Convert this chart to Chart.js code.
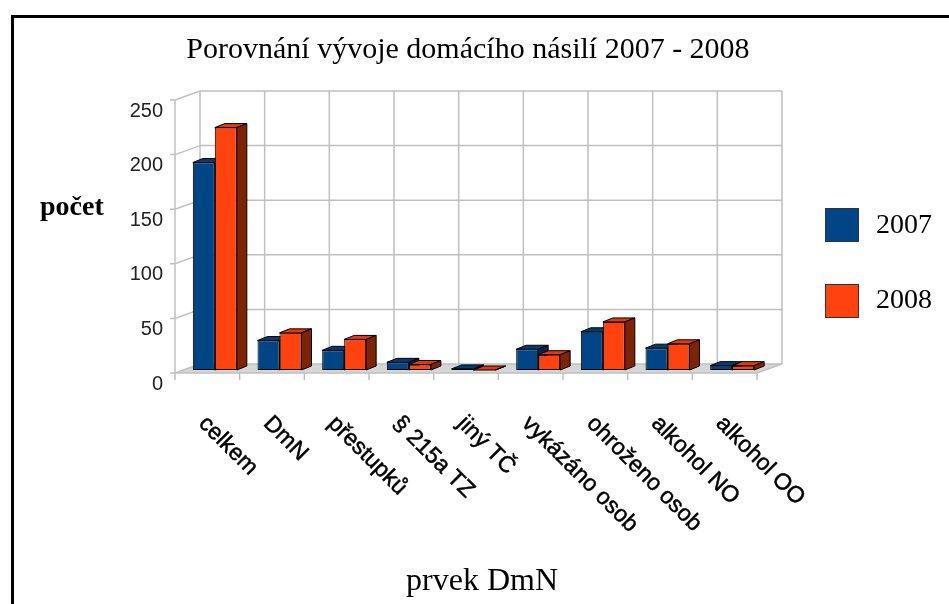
<!DOCTYPE html>
<html>
<head>
<meta charset="utf-8">
<script src="https://cdn.jsdelivr.net/npm/chart.js@4/dist/chart.umd.min.js"></script>
<style>
  html, body { margin: 0; padding: 0; background: #fff; overflow: hidden; }
  #wrap { position: relative; width: 949px; height: 604px; overflow: hidden; }
  #frame { position: absolute; left: 11px; top: 15px; width: 1000px; height: 700px; border: 3px solid #000; box-sizing: border-box; }
  canvas { position: absolute; left: 0; top: 0; }
  .txt { position: absolute; white-space: nowrap; line-height: 1; color: #000; font-family: 'Liberation Serif', 'DejaVu Serif', serif; }
  .box { position: absolute; width: 32px; height: 32px; border: 1px solid #333; }
</style>
</head>
<body>
<div id="wrap">
  <div id="frame"></div>
  <canvas id="chart" width="949" height="604"></canvas>
  <div class="txt" style="left:168px; width:600px; text-align:center; top:33px; font-size:30px;">Porovnání vývoje domácího násilí 2007 - 2008</div>
  <div class="txt" style="left:40px; top:192px; font-size:28px; font-weight:bold;">počet</div>
  <div class="txt" style="left:332px; width:300px; text-align:center; top:563px; font-size:32px;">prvek DmN</div>
  <div class="box" style="left:825px; top:208px; background:#004586;"></div>
  <div class="txt" style="left:876px; top:210px; font-size:28px;">2007</div>
  <div class="box" style="left:825px; top:284px; background:#ff420e;"></div>
  <div class="txt" style="left:876px; top:285px; font-size:28px;">2008</div>
</div>
<script>
// ---- data ----
const categories = ['celkem', 'DmN', 'přestupků', '§ 215a TZ', 'jiný TČ', 'vykázáno osob', 'ohroženo osob', 'alkohol NO', 'alkohol OO'];
const values2007 = [190, 27, 18, 7, 1, 19, 35, 20, 4];
const values2008 = [222, 34, 28, 5, 0, 14, 44, 24, 4];
const yTicks = [0, 50, 100, 150, 200, 250];

// 3D look: depth of the wall / floor, and depth of the bars
const wallDepth = { x: 25, y: -9 };
const barShift = { x: 7.5, y: -3 };
const barDepth = { x: 10, y: -4 };

const faceColors = [
  { front: '#004586', top: '#003c75', side: '#00284f' },
  { front: '#ff420e', top: '#e5390b', side: '#7e2306' }
];

// top and side faces of one dataset's bars
function drawFaces(ctx, meta, c) {
  const bx = barDepth.x, by = barDepth.y;
  meta.data.forEach(function(bar) {
    const p = bar.getProps(['x', 'y', 'base', 'width'], true);
    const l = p.x - p.width / 2, r = p.x + p.width / 2;
    const t = Math.min(p.y, p.base), b = Math.max(p.y, p.base);
    ctx.save();
    ctx.strokeStyle = '#000';
    ctx.lineWidth = 1;
    ctx.lineJoin = 'round';
    ctx.fillStyle = c.top;
    ctx.beginPath();
    ctx.moveTo(l, t);
    ctx.lineTo(r, t);
    ctx.lineTo(r + bx, t + by);
    ctx.lineTo(l + bx, t + by);
    ctx.closePath();
    ctx.fill();
    ctx.stroke();
    ctx.fillStyle = c.side;
    ctx.beginPath();
    ctx.moveTo(r, t);
    ctx.lineTo(r + bx, t + by);
    ctx.lineTo(r + bx, b + by);
    ctx.lineTo(r, b);
    ctx.closePath();
    ctx.fill();
    ctx.stroke();
    ctx.restore();
  });
}

// back wall, floor and grid drawn in perspective
const wallPlugin = {
  id: 'wall',
  beforeDatasetsDraw(chart) {
    const ctx = chart.ctx;
    const xs = chart.scales.x;
    const ys = chart.scales.y;
    const L = xs.left, R = xs.right;
    const B = ys.getPixelForValue(yTicks[0]);
    const T = ys.getPixelForValue(yTicks[yTicks.length - 1]);
    const dx = wallDepth.x, dy = wallDepth.y;
    const cw = (R - L) / categories.length;

    ctx.save();
    // floor
    ctx.fillStyle = '#d6d6d6';
    ctx.beginPath();
    ctx.moveTo(L, B);
    ctx.lineTo(R, B);
    ctx.lineTo(R + dx, B + dy);
    ctx.lineTo(L + dx, B + dy);
    ctx.closePath();
    ctx.fill();

    ctx.strokeStyle = '#c0c0c0';
    ctx.lineWidth = 1.5;
    ctx.beginPath();
    // horizontal grid lines on back wall + diagonals on left side
    yTicks.forEach(function(v) {
      const y = ys.getPixelForValue(v);
      ctx.moveTo(L + dx, y + dy);
      ctx.lineTo(R + dx, y + dy);
      ctx.moveTo(L - 5, y);
      ctx.lineTo(L, y);
      ctx.lineTo(L + dx, y + dy);
    });
    // vertical grid lines on back wall
    for (let i = 0; i <= categories.length; i++) {
      const x = L + i * cw + dx;
      ctx.moveTo(x, T + dy);
      ctx.lineTo(x, B + dy);
    }
    // front left edge and floor front edge
    ctx.moveTo(L, T);
    ctx.lineTo(L, B);
    ctx.lineTo(R, B);
    ctx.lineTo(R + dx, B + dy);
    // ticks under the floor
    for (let i = 0; i <= categories.length; i++) {
      const x = L + i * cw;
      ctx.moveTo(x, B);
      ctx.lineTo(x, B + 7);
    }
    ctx.stroke();
    ctx.restore();

    // bars sit a bit inside the depth
    ctx.save();
    ctx.translate(barShift.x, barShift.y);
  },
  // Chart.js paints dataset 1 first: put the 2007 faces underneath the 2008 fronts
  beforeDatasetDraw(chart, args) {
    if (args.index === 1) {
      drawFaces(chart.ctx, chart.getDatasetMeta(0), faceColors[0]);
    }
  },
  afterDatasetDraw(chart, args) {
    if (args.index === 1) {
      drawFaces(chart.ctx, args.meta, faceColors[1]);
    }
  },
  afterDatasetsDraw(chart) {
    chart.ctx.restore();
  },
  afterDraw(chart) {
    // rotated category labels, starting under each category
    const ctx = chart.ctx;
    const xs = chart.scales.x;
    ctx.save();
    ctx.fillStyle = '#000';
    ctx.strokeStyle = '#000';
    ctx.lineWidth = 0.5;
    ctx.font = '23px "Liberation Sans", Arial, sans-serif';
    ctx.textAlign = 'left';
    ctx.textBaseline = 'top';
    categories.forEach(function(label, i) {
      const x = xs.getPixelForValue(i);
      ctx.save();
      ctx.translate(x + 3, 412);
      ctx.rotate(Math.PI / 4);
      ctx.fillText(label, 0, 0);
      ctx.strokeText(label, 0, 0);
      ctx.restore();
    });
    ctx.restore();
  }
};

const ctx = document.getElementById('chart').getContext('2d');
const chart = new Chart(ctx, {
  type: 'bar',
  data: {
    labels: categories,
    datasets: [
      {
        label: '2007',
        data: values2007,
        backgroundColor: faceColors[0].front,
        borderColor: '#000',
        borderWidth: 1,
        borderSkipped: false
      },
      {
        label: '2008',
        data: values2008,
        backgroundColor: faceColors[1].front,
        borderColor: '#000',
        borderWidth: 1,
        borderSkipped: false
      }
    ]
  },
  options: {
    responsive: false,
    animation: false,
    events: [],
    layout: {
      padding: { left: 0, top: 100, right: 192, bottom: 231 }
    },
    datasets: {
      bar: {
        categoryPercentage: 0.68,
        barPercentage: 1.0,
        clip: false
      }
    },
    plugins: {
      legend: { display: false },
      title: { display: false },
      tooltip: { enabled: false }
    },
    scales: {
      x: {
        ticks: { display: false },
        grid: { display: false, drawTicks: false },
        border: { display: false },
        afterFit: function(scale) { scale.height = 0; }
      },
      y: {
        min: yTicks[0],
        max: yTicks[yTicks.length - 1],
        ticks: {
          stepSize: 50,
          padding: 12,
          labelOffset: 11,
          color: '#222',
          font: { family: '"Liberation Sans", Arial, sans-serif', size: 20 }
        },
        grid: { display: false, drawTicks: false },
        border: { display: false },
        afterFit: function(scale) { scale.width = 175; }
      }
    }
  },
  plugins: [wallPlugin]
});
</script>
</body>
</html>
